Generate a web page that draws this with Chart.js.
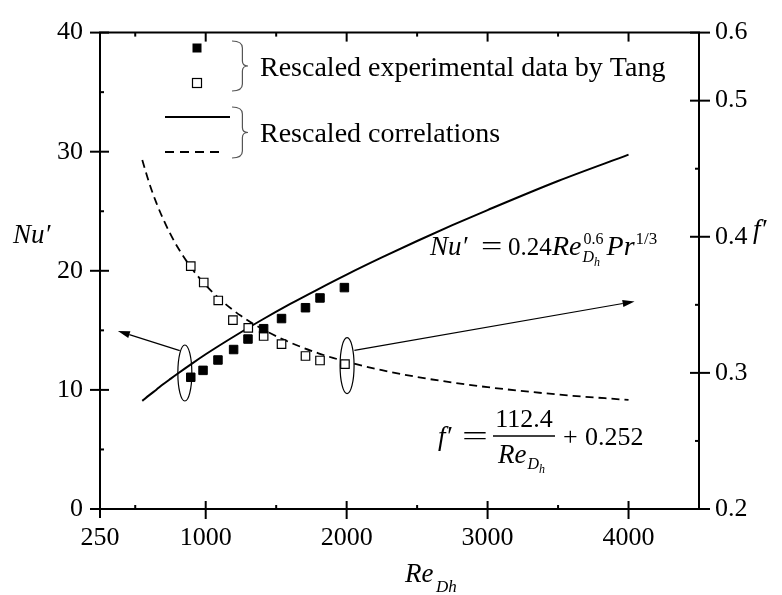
<!DOCTYPE html>
<html>
<head>
<meta charset="utf-8">
<script src="https://cdn.jsdelivr.net/npm/chart.js@4.4.0/dist/chart.umd.min.js"></script>
<style>
  html, body { margin: 0; padding: 0; background: #fff; }
  #chart { display: block; }
</style>
</head>
<body>
<canvas id="chart" width="782" height="595"></canvas>
<script>
// Correlation curves
const reCurve = [550, 600, 650, 700, 750, 800, 900, 1000, 1100, 1250, 1400, 1600, 1800, 2000, 2250, 2500, 2750, 3000, 3500, 4000];
const nuCurve = [9.08, 9.56, 10.02, 10.49, 10.93, 11.36, 12.19, 12.99, 13.75, 14.84, 15.89, 17.22, 18.47, 19.68, 21.12, 22.5, 23.83, 25.1, 27.54, 29.75];
const fCurve = [0.4564, 0.4393, 0.4249, 0.4126, 0.4019, 0.3925, 0.3769, 0.3644, 0.3542, 0.3419, 0.3323, 0.3223, 0.3144, 0.3082, 0.302, 0.297, 0.2929, 0.2895, 0.2841, 0.2801];

// Rescaled experimental data by Tang
const reTangNu = [894, 981, 1087, 1198, 1300, 1411, 1538, 1708, 1811, 1984];
const nuTang = [11.06, 11.64, 12.51, 13.39, 14.27, 15.14, 15.99, 16.9, 17.72, 18.59];
const reTangF = [894, 986, 1089, 1193, 1302, 1411, 1538, 1708, 1811, 1988];
const fTang = [0.3784, 0.3664, 0.3532, 0.3388, 0.3331, 0.3271, 0.3211, 0.3124, 0.3091, 0.3065];

// Axis ticks
const xTicks = [250, 500, 1000, 1500, 2000, 2500, 3000, 3500, 4000, 4500];
const xTickLabels = [250, 1000, 2000, 3000, 4000];
const nuTicks = [0, 5, 10, 15, 20, 25, 30, 35, 40];
const fTicks = [0.2, 0.25, 0.3, 0.35, 0.4, 0.45, 0.5, 0.55];
const fTickLabels = ['0.2', '', '0.3', '', '0.4', '', '0.5', '0.6'];

const SERIF = '"Liberation Serif", "Times New Roman", serif';
const toPoints = (xs, ys) => xs.map((x, i) => ({ x: x, y: ys[i] }));

function setTicks(values) {
    return scale => { scale.ticks = values.map(v => ({ value: v })); };
}

function line(ctx, x1, y1, x2, y2) {
    ctx.beginPath();
    ctx.moveTo(x1, y1);
    ctx.lineTo(x2, y2);
    ctx.stroke();
}

function arrow(ctx, x1, y1, x2, y2) {
    const a = Math.atan2(y2 - y1, x2 - x1);
    const len = 12, half = 3.5;
    const bx = x2 - len * Math.cos(a), by = y2 - len * Math.sin(a);
    line(ctx, x1, y1, bx, by);
    ctx.beginPath();
    ctx.moveTo(x2, y2);
    ctx.lineTo(bx + half * Math.sin(a), by - half * Math.cos(a));
    ctx.lineTo(bx - half * Math.sin(a), by + half * Math.cos(a));
    ctx.closePath();
    ctx.fill();
}

function brace(ctx, x, y0, y1, w) {
    const ym = (y0 + y1) / 2, xv = x + w * 0.65;
    ctx.beginPath();
    ctx.moveTo(x, y0);
    ctx.quadraticCurveTo(xv, y0, xv, y0 + 7);
    ctx.lineTo(xv, ym - 5);
    ctx.quadraticCurveTo(xv, ym, x + w, ym);
    ctx.quadraticCurveTo(xv, ym, xv, ym + 5);
    ctx.lineTo(xv, y1 - 7);
    ctx.quadraticCurveTo(xv, y1, x, y1);
    ctx.stroke();
}

// one piece of text; sx stretches it horizontally; returns its end x
function txt(ctx, s, x, y, size, italic, sx) {
    ctx.font = (italic ? 'italic ' : '') + size + 'px ' + SERIF;
    const w = ctx.measureText(s).width * (sx || 1);
    ctx.save();
    ctx.translate(x, y);
    ctx.scale(sx || 1, 1);
    ctx.fillText(s, 0, 0);
    ctx.restore();
    return x + w;
}

const overlay = {
    id: 'overlay',
    afterDraw(chart) {
        const { ctx, chartArea: a, scales } = chart;
        const sx = scales.x, sy = scales.y, sf = scales.y1;
        ctx.save();
        ctx.strokeStyle = '#000';
        ctx.fillStyle = '#000';
        ctx.lineWidth = 2;
        ctx.textBaseline = 'alphabetic';

        // frame top line
        line(ctx, a.left - 1, a.top, a.right + 1, a.top);

        // tick marks
        sx.ticks.forEach(t => {
            const px = sx.getPixelForValue(t.value);
            if (t.value === 250) { line(ctx, px, a.bottom, px, a.bottom + 9); return; }
            if (t.value === 4500) return;
            if (t.value % 1000 === 0) {
                line(ctx, px, a.bottom - 8, px, a.bottom + 10);
                line(ctx, px, a.top, px, a.top + 9);
            } else {
                line(ctx, px, a.bottom - 4, px, a.bottom);
                line(ctx, px, a.top, px, a.top + 4);
            }
        });
        sy.ticks.forEach(t => {
            const py = sy.getPixelForValue(t.value);
            if (t.value % 10 === 0) line(ctx, a.left - 10, py, a.left + 9, py);
            else line(ctx, a.left, py, a.left + 4, py);
        });
        sf.ticks.forEach(t => {
            const py = sf.getPixelForValue(t.value);
            const k = Math.round(t.value * 100);
            if (k % 10 === 0 || k === 55) line(ctx, a.right - 9, py, a.right + 11, py);
            else line(ctx, a.right - 4, py, a.right, py);
        });

        // axis titles
        txt(ctx, 'Nu\u2032', 13, 243, 27, true);
        txt(ctx, 'f\u2032', 753, 238, 27, true);
        txt(ctx, 'Re', 405, 582, 27, true);
        txt(ctx, 'Dh', 436, 592, 17, true);

        // ellipses and arrows
        ctx.lineWidth = 1.2;
        ctx.beginPath();
        ctx.ellipse(sx.getPixelForValue(852), sy.getPixelForValue(11.42), 7, 28, 0, 0, Math.PI * 2);
        ctx.stroke();
        ctx.beginPath();
        ctx.ellipse(sx.getPixelForValue(2003), sf.getPixelForValue(0.3053), 7, 28, 0, 0, Math.PI * 2);
        ctx.stroke();
        arrow(ctx, sx.getPixelForValue(816), sy.getPixelForValue(13.3), sx.getPixelForValue(377), sy.getPixelForValue(14.95));
        arrow(ctx, sx.getPixelForValue(2055), sf.getPixelForValue(0.3166), sx.getPixelForValue(4043), sf.getPixelForValue(0.3525));

        // legend
        ctx.fillRect(192.5, 43.5, 9, 9);
        ctx.fillStyle = '#fff';
        ctx.fillRect(192.5, 78.5, 9, 9);
        ctx.strokeRect(192.5, 78.5, 9, 9);
        ctx.fillStyle = '#000';
        ctx.lineWidth = 2;
        line(ctx, 165, 117, 230, 117);
        ctx.setLineDash([9, 6]);
        line(ctx, 165, 152, 225, 152);
        ctx.setLineDash([]);
        ctx.strokeStyle = '#555';
        ctx.lineWidth = 1.2;
        brace(ctx, 232, 41, 91, 16);
        brace(ctx, 232, 107, 158, 16);
        ctx.strokeStyle = '#000';
        txt(ctx, 'Rescaled experimental data by Tang', 260, 76, 28);
        txt(ctx, 'Rescaled correlations', 260, 142, 28);

        // Nu' correlation
        txt(ctx, 'Nu\u2032', 430, 255, 27, true);
        txt(ctx, '=', 481, 255, 27, false, 1.4);
        txt(ctx, '0.24', 508, 255, 25);
        let e = txt(ctx, 'Re', 552, 255, 28, true);
        txt(ctx, '0.6', e + 2, 244, 16);
        const d = txt(ctx, 'D', e + 1, 262, 16, true);
        txt(ctx, 'h', d, 266, 12, true);
        e = txt(ctx, 'Pr', e + 25, 255, 28, true);
        txt(ctx, '1/3', e + 1, 244, 17);

        // f' correlation
        txt(ctx, 'f\u2032', 438, 445, 27, true);
        txt(ctx, '=', 462, 445, 27, false, 1.7);
        ctx.textAlign = 'center';
        txt(ctx, '112.4', 524, 427, 26);
        ctx.textAlign = 'left';
        ctx.lineWidth = 1.5;
        line(ctx, 493, 436, 555, 436);
        e = txt(ctx, 'Re', 498, 463, 27, true);
        e = txt(ctx, 'D', e + 1, 469, 16, true);
        txt(ctx, 'h', e, 473, 12, true);
        txt(ctx, '+', 563, 445, 26);
        txt(ctx, '0.252', 585, 445, 26);
        ctx.restore();
    }
};

const tickFont = { family: SERIF, size: 26 };

new Chart(document.getElementById('chart'), {
    type: 'scatter',
    data: {
        datasets: [
            {
                label: 'Tang Nu',
                data: toPoints(reTangNu, nuTang),
                yAxisID: 'y',
                pointStyle: 'rect',
                pointRadius: 6,
                backgroundColor: '#000',
                borderColor: '#000',
                borderWidth: 1
            },
            {
                label: 'Tang f',
                data: toPoints(reTangF, fTang),
                yAxisID: 'y1',
                pointStyle: 'rect',
                pointRadius: 6,
                backgroundColor: '#fff',
                borderColor: '#000',
                borderWidth: 1.2
            },
            {
                label: 'Nu correlation',
                data: toPoints(reCurve, nuCurve),
                yAxisID: 'y',
                showLine: true,
                pointRadius: 0,
                borderColor: '#000',
                borderWidth: 2,
                cubicInterpolationMode: 'monotone'
            },
            {
                label: 'f correlation',
                data: toPoints(reCurve, fCurve),
                yAxisID: 'y1',
                showLine: true,
                pointRadius: 0,
                borderColor: '#000',
                borderWidth: 1.8,
                borderDash: [8, 5],
                cubicInterpolationMode: 'monotone'
            }
        ]
    },
    options: {
        responsive: false,
        animation: false,
        layout: { padding: { top: 22, left: 0, right: 0, bottom: 0 } },
        plugins: { legend: { display: false }, tooltip: { enabled: false } },
        scales: {
            x: {
                type: 'linear',
                min: 250,
                max: 4500,
                afterBuildTicks: setTicks(xTicks),
                afterFit: s => { s.height = 86; },
                grid: { display: false, drawTicks: false },
                border: { display: true, color: '#000', width: 2 },
                ticks: {
                    autoSkip: false,
                    maxRotation: 0,
                    padding: 14,
                    color: '#000',
                    font: tickFont,
                    callback: v => xTickLabels.includes(v) ? String(v) : ''
                }
            },
            y: {
                position: 'left',
                min: 0,
                max: 40,
                afterBuildTicks: setTicks(nuTicks),
                afterFit: s => { s.width = 100; },
                grid: { display: false, drawTicks: false },
                border: { display: true, color: '#000', width: 2 },
                ticks: {
                    autoSkip: false,
                    padding: 17,
                    color: '#000',
                    font: tickFont,
                    callback: v => v % 10 === 0 ? String(v) : ''
                }
            },
            y1: {
                position: 'right',
                min: 0.2,
                max: 0.55,
                afterBuildTicks: setTicks(fTicks),
                afterFit: s => { s.width = 83; },
                grid: { display: false, drawTicks: false },
                border: { display: true, color: '#000', width: 2 },
                ticks: {
                    autoSkip: false,
                    padding: 16,
                    color: '#000',
                    font: tickFont,
                    callback: (v, i) => fTickLabels[i]
                }
            }
        }
    },
    plugins: [overlay]
});
</script>
</body>
</html>
